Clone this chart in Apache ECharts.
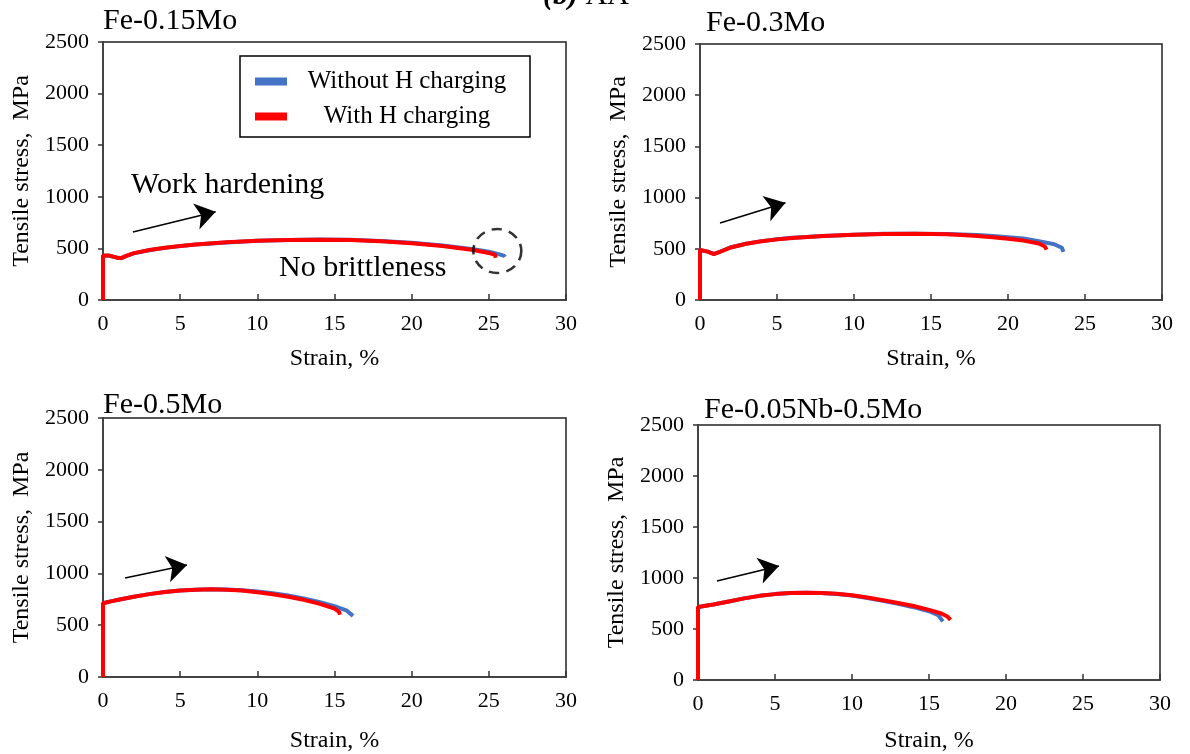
<!DOCTYPE html>
<html><head><meta charset="utf-8">
<script src="https://cdn.jsdelivr.net/npm/echarts@6/dist/echarts.min.js"></script>
<style>html,body{margin:0;padding:0;background:#fff}#c{width:1190px;height:754px}</style>
</head><body><div id="c"></div>
<script>
const panelTitles = ['Fe-0.15Mo', 'Fe-0.3Mo', 'Fe-0.5Mo', 'Fe-0.05Nb-0.5Mo'];
const seriesNames = ['Without H charging', 'With H charging'];
const xTicks = [0, 5, 10, 15, 20, 25, 30];
const yTicks = [0, 500, 1000, 1500, 2000, 2500];

// [strain %, stress MPa]
const mo015Without = [[0,0],[0,428],[0.4,428],[0.9,412],[1.2,404],[1.5,425],[2,452],[3,482],[4,505],[5,522],[6,537],[8,558],[10,573],[12,582],[14,586],[16,583],[18,572],[20,554],[22,528],[24,492],[25,467],[25.7,442],[26,428],[26.05,417]];
const mo015With = [[0,0],[0,430],[0.4,430],[0.9,410],[1.2,408],[1.5,428],[2,454],[3,484],[4,507],[5,524],[6,538],[8,559],[10,573],[12,582],[14,585],[16,582],[18,570],[20,550],[22,523],[24,485],[25,456],[25.4,438],[25.45,410]];
const mo03Without = [[0,0],[0,488],[0.5,472],[0.9,450],[1.2,466],[2,515],[3,550],[4,575],[5,593],[6,607],[8,625],[10,638],[12,646],[14,648],[16,644],[18,634],[19,624],[20,613],[21,600],[22,575],[23,545],[23.5,510],[23.6,470]];
const mo03With = [[0,0],[0,488],[0.5,472],[0.9,448],[1.2,464],[2,513],[3,549],[4,574],[5,592],[6,606],[8,624],[10,637],[12,645],[14,646],[16,641],[17,634],[18,624],[19,612],[20,598],[21,580],[22,552],[22.4,522],[22.5,492]];
const mo05Without = [[0,0],[0,712],[0.5,730],[1,745],[2,775],[3,800],[4,820],[5,835],[6,843],[7,846],[8,844],[9,837],[10,825],[11,808],[12,786],[13,758],[14,724],[15,684],[15.8,640],[16.2,590]];
const mo05With = [[0,0],[0,712],[0.5,730],[1,745],[2,775],[3,800],[4,820],[5,835],[6,843],[7,846],[8,843],[9,834],[10,818],[11,798],[12,774],[13,745],[14,708],[15,660],[15.3,628],[15.35,600]];
const nbMoWithout = [[0,0],[0,715],[0.5,728],[1,740],[2,770],[3,800],[4,825],[5,842],[6,852],[7,855],[8,852],[9,844],[10,828],[11,804],[12,777],[13,747],[14,714],[15,674],[15.6,635],[15.9,575]];
const nbMoWith = [[0,0],[0,715],[0.5,728],[1,740],[2,770],[3,800],[4,825],[5,842],[6,852],[7,855],[8,852],[9,845],[10,830],[11,808],[12,782],[13,755],[14,725],[15,688],[15.8,652],[16.2,622],[16.4,590]];

// annotation arrows [start, end] in data coordinates
const arrows = [
  [[1.94, 659], [7.3, 855]],
  [[1.3, 752], [5.55, 950]],
  [[1.43, 956], [5.44, 1081]],
  [[1.23, 971], [5.26, 1118]]
];
const circleMark = [[25.55, 475]];

const panelData = [[mo015Without, mo015With],[mo03Without, mo03With],[mo05Without, mo05With],[nbMoWithout, nbMoWith]];
const colors = ['#4472C4', '#FF0000'];
const FONT = '"Liberation Serif", "Times New Roman", serif';

const grids = [
  {left:103, top:42, width:463, height:258},
  {left:700, top:44, width:462, height:256},
  {left:103, top:418, width:463, height:259},
  {left:698, top:425, width:462, height:255}
];
const xNameGaps = [47, 47, 52, 49];

const xAxis = [], yAxis = [], series = [];
grids.forEach((g, i) => {
  g.show = true; g.borderColor = '#222'; g.borderWidth = 1.5; g.backgroundColor = 'transparent';
  g.outerBoundsMode = 'none'; g.containLabel = false;
  xAxis.push({type:'value', gridIndex:i, min:xTicks[0], max:xTicks[xTicks.length-1], interval:xTicks[1]-xTicks[0],
    name:'Strain, %', nameLocation:'middle', nameGap:xNameGaps[i],
    nameTextStyle:{fontFamily:FONT, fontSize:24, color:'#000'},
    axisLine:{lineStyle:{color:'#444', width:2}},
    axisTick:{inside:true, length:6, lineStyle:{color:'#333', width:1.5}},
    axisLabel:{fontFamily:FONT, fontSize:22, color:'#000', margin:13, formatter:v => String(v)},
    splitLine:{show:false}});
  yAxis.push({type:'value', gridIndex:i, min:yTicks[0], max:yTicks[yTicks.length-1], interval:yTicks[1]-yTicks[0],
    name:'Tensile stress,  MPa', nameLocation:'middle', nameGap:69,
    nameTextStyle:{fontFamily:FONT, fontSize:24, color:'#000'},
    axisLine:{show:true, lineStyle:{color:'#444', width:2}},
    axisTick:{show:true, inside:false, length:5, lineStyle:{color:'#333', width:1.5}},
    axisLabel:{fontFamily:FONT, fontSize:22, color:'#000', margin:14, formatter:v => String(v)},
    splitLine:{show:false}});
  panelData[i].forEach((d, k) => {
    series.push({type:'line', name:seriesNames[k], xAxisIndex:i, yAxisIndex:i, data:d,
      showSymbol:false, smooth:false, lineStyle:{color:colors[k], width:4}, itemStyle:{color:colors[k]},
      z: 2 + k, silent:true, animation:false});
  });
  series.push({type:'line', xAxisIndex:i, yAxisIndex:i, data:[], silent:true, animation:false,
    markLine:{silent:true, symbol:['none','arrow'], symbolSize:20,
      lineStyle:{color:'#000', width:1.5, type:'solid'}, label:{show:false},
      data:[[{coord:arrows[i][0], symbol:'none'},{coord:arrows[i][1], symbol:'arrow', symbolSize:20}]]}});
});
series.push({type:'scatter', xAxisIndex:0, yAxisIndex:0, data:circleMark, symbol:'circle', symbolSize:[48,44],
  itemStyle:{color:'rgba(0,0,0,0)', borderColor:'#000', borderWidth:2.5, borderType:[10,7]}, silent:true, z:5, animation:false});

const option = {
  animation:false,
  backgroundColor:'#fff',
  grid: grids, xAxis, yAxis, series,
  legend:{data:seriesNames, orient:'vertical', left:240, top:56, itemGap:10,
    padding:[13,8,8,15], itemWidth:32, itemHeight:8, icon:'rect',
    borderColor:'#000', borderWidth:1.5,
    formatter: name => '{c|' + name + '}',
    textStyle:{fontFamily:FONT, fontSize:25, color:'#000',
      rich:{c:{fontFamily:FONT, fontSize:25, color:'#000', width:230, align:'center', lineHeight:27}}}},
  graphic:[
    {type:'text', left:103, top:6, style:{text:panelTitles[0], font:'30px '+FONT, fill:'#000'}},
    {type:'text', left:706, top:8, style:{text:panelTitles[1], font:'30px '+FONT, fill:'#000'}},
    {type:'text', left:103, top:390, style:{text:panelTitles[2], font:'30px '+FONT, fill:'#000'}},
    {type:'text', left:704, top:395, style:{text:panelTitles[3], font:'30px '+FONT, fill:'#000'}},
    {type:'text', left:131, top:170, style:{text:'Work hardening', font:'30px '+FONT, fill:'#000'}},
    {type:'text', left:279, top:253, style:{text:'No brittleness', font:'30px '+FONT, fill:'#000'}},
    {type:'text', left:543, top:-19, style:{text:'{b|(b)} AA', font:'30px '+FONT, fill:'#000',
      rich:{b:{font:'italic bold 30px '+FONT, fill:'#000'}}}}
  ]
};
const chart = echarts.init(document.getElementById('c'), null, {renderer:'canvas'});
chart.setOption(option);
</script></body></html>
